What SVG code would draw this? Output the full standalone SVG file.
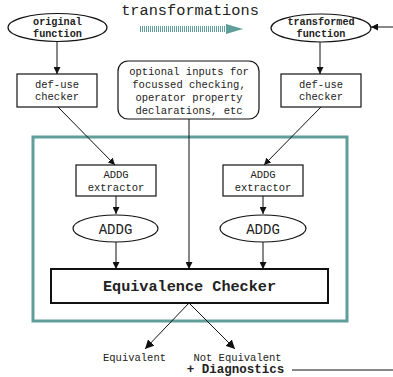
<svg xmlns="http://www.w3.org/2000/svg" width="393" height="377" viewBox="0 0 393 377">
<style>
text{font-family:"Liberation Mono","Courier New",monospace;fill:#222;text-anchor:middle}
.s{font-size:10.5px}
.b{font-weight:bold}
.box{fill:#fff;stroke:#111;stroke-width:1.2}
.ln{stroke:#111;stroke-width:1;fill:none}
</style>
<defs>
<marker id="ah" viewBox="0 0 8 8" refX="8" refY="4" markerWidth="7" markerHeight="7" markerUnits="userSpaceOnUse" orient="auto"><path d="M0,0 L8,4 L0,8 Z" fill="#111"/></marker>
<marker id="ahb" viewBox="0 0 8 8" refX="8" refY="4" markerWidth="9" markerHeight="9" markerUnits="userSpaceOnUse" orient="auto"><path d="M0,0 L8,4 L0,8 Z" fill="#111"/></marker>
</defs>
<rect width="393" height="377" fill="#fff"/>
<g id="title">
<text x="190" y="15" style="font-size:15.3px">transformations</text>
<line x1="140" y1="29" x2="227" y2="29" stroke="#5f9e9a" stroke-width="6" stroke-dasharray="1 1"/>
<polygon points="226,24 243,29 226,34" fill="#5f9e9a"/>
</g>
<g id="container"><rect x="33" y="137" width="314" height="184" fill="none" stroke="#5f9e9a" stroke-width="3"/></g>
<g id="connectors">
<line class="ln" x1="57" y1="41" x2="57" y2="74" marker-end="url(#ah)"/>
<line class="ln" x1="320" y1="42" x2="320" y2="74" marker-end="url(#ah)"/>
<line class="ln" x1="393" y1="27" x2="371" y2="27" stroke-width="1.5" marker-end="url(#ah)"/>
<line class="ln" x1="58" y1="107" x2="115" y2="165" marker-end="url(#ah)"/>
<line class="ln" x1="321" y1="107" x2="264" y2="165" marker-end="url(#ah)"/>
<line class="ln" x1="116" y1="196" x2="116" y2="214" marker-end="url(#ah)"/>
<line class="ln" x1="263" y1="196" x2="263" y2="214" marker-end="url(#ah)"/>
<line class="ln" x1="116" y1="242" x2="116" y2="269" marker-end="url(#ah)"/>
<line class="ln" x1="263" y1="242" x2="263" y2="269" marker-end="url(#ah)"/>
<line class="ln" x1="189" y1="119" x2="189" y2="269" marker-end="url(#ah)"/>
<line class="ln" x1="189" y1="303" x2="145" y2="349" stroke-width="1.5" marker-end="url(#ahb)"/>
<line class="ln" x1="189" y1="303" x2="235" y2="349" stroke-width="1.5" marker-end="url(#ahb)"/>
<line class="ln" x1="292" y1="370" x2="393" y2="370" stroke-width="1.5"/>
</g>
<g id="original-function">
<ellipse cx="57.5" cy="27.5" rx="49.5" ry="14" class="box"/>
<text x="57.5" y="25" class="b" style="font-size:10.2px">original</text>
<text x="57.5" y="37" class="b" style="font-size:10.2px">function</text>
</g>
<g id="transformed-function">
<ellipse cx="321" cy="28" rx="50" ry="14" class="box"/>
<text x="321" y="25" class="b" style="font-size:10.2px">transformed</text>
<text x="321" y="37" class="b" style="font-size:10.2px">function</text>
</g>
<g id="def-use-left">
<rect x="17" y="74" width="80" height="33" class="box"/>
<text x="57" y="88" class="s">def-use</text>
<text x="57" y="100" class="s">checker</text>
</g>
<g id="def-use-right">
<rect x="281" y="74" width="80" height="33" class="box"/>
<text x="321" y="88" class="s">def-use</text>
<text x="321" y="100" class="s">checker</text>
</g>
<g id="optional-inputs">
<rect x="118" y="61" width="141" height="58" rx="10" class="box"/>
<text x="189" y="75" class="s">optional inputs for</text>
<text x="189" y="88" class="s">focussed checking,</text>
<text x="189" y="101" class="s">operator property</text>
<text x="189" y="114" class="s">declarations, etc</text>
</g>
<g id="addg-extractor-left">
<rect x="76" y="165" width="80" height="31" class="box"/>
<text x="116" y="178" class="s">ADDG</text>
<text x="116" y="191" class="s">extractor</text>
</g>
<g id="addg-extractor-right">
<rect x="223" y="165" width="80" height="31" class="box"/>
<text x="263" y="178" class="s">ADDG</text>
<text x="263" y="191" class="s">extractor</text>
</g>
<g id="addg-left">
<ellipse cx="115.5" cy="228.5" rx="42.5" ry="13.5" class="box"/>
<text x="115.5" y="233.5" style="font-size:14px">ADDG</text>
</g>
<g id="addg-right">
<ellipse cx="263" cy="228.5" rx="43" ry="13.5" class="box"/>
<text x="263" y="233.5" style="font-size:14px">ADDG</text>
</g>
<g id="equivalence-checker">
<rect x="51" y="269" width="277" height="34" fill="#fff" stroke="#111" stroke-width="2"/>
<text x="189.5" y="291" class="b" style="font-size:15.2px">Equivalence Checker</text>
</g>
<g id="equivalent"><text x="134.5" y="361" class="s">Equivalent</text></g>
<g id="not-equivalent">
<text x="237.5" y="361" class="s">Not Equivalent</text>
<text x="235.5" y="373" class="b" style="font-size:12.5px">+ Diagnostics</text>
</g>
</svg>
